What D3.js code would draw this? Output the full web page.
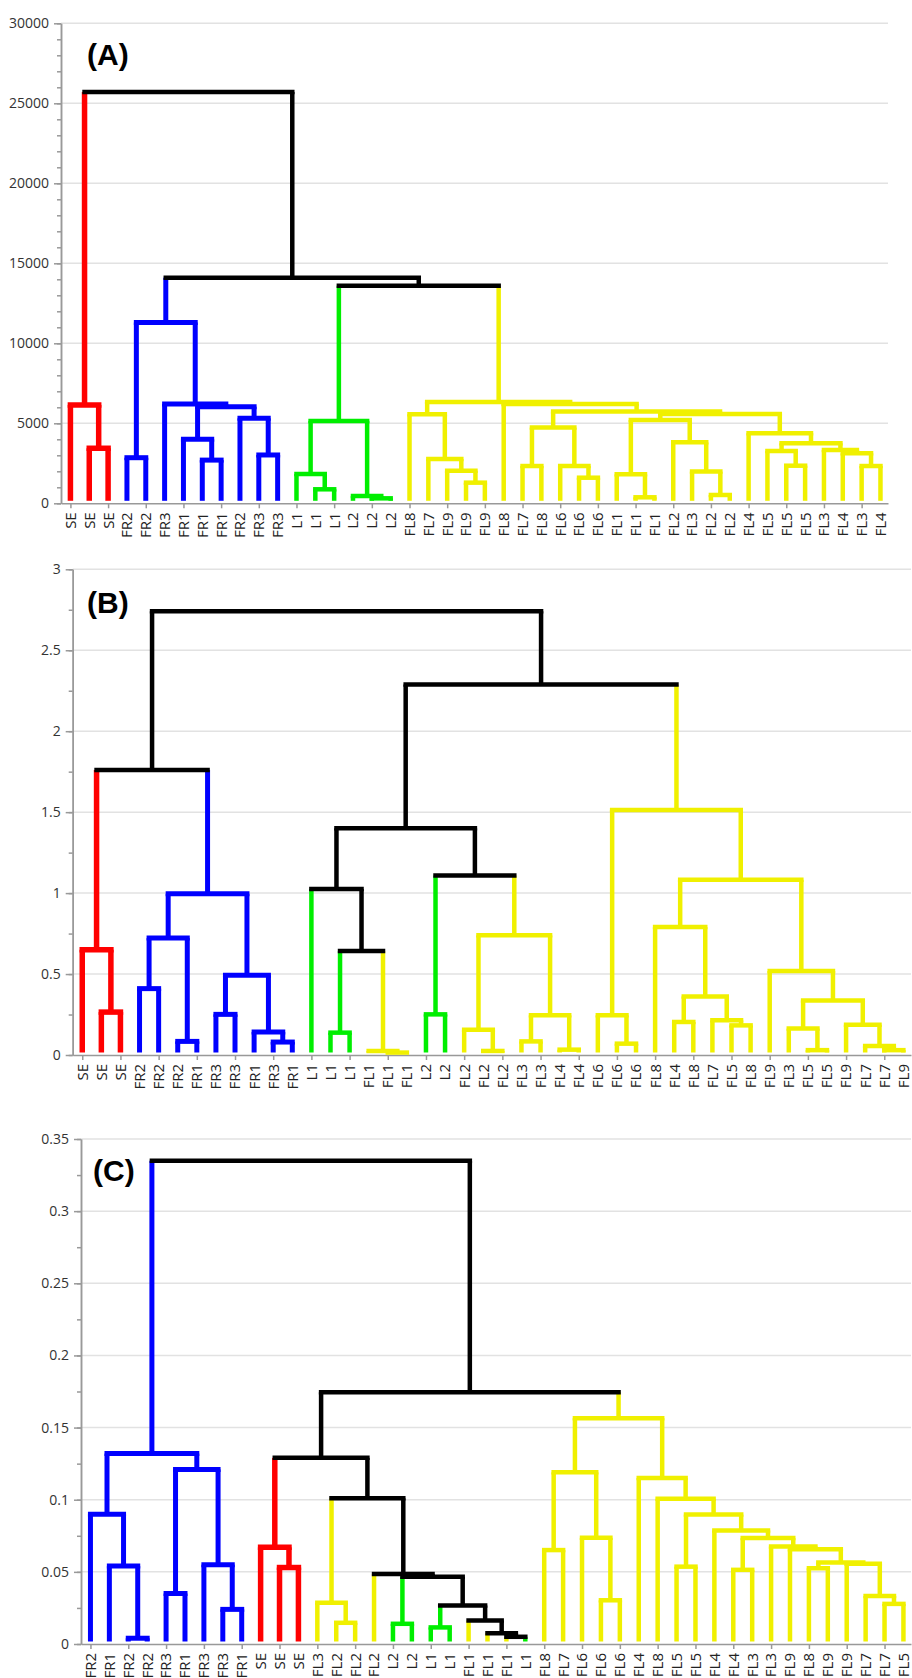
<!DOCTYPE html>
<html>
<head>
<meta charset="utf-8">
<script src="https://cdn.jsdelivr.net/npm/d3@7"></script>
<style>
  body { margin: 0; background: #fff; }
  svg text { font-family: "Open Sans", "Noto Sans", sans-serif; }
</style>
</head>
<body>
<svg id="svg" width="912" height="1678"></svg>
<script>
// ---- data: leaf order + merges [left, right, height] (ids >= 44 are earlier merge rows) ----
const labelsA = ['SE','SE','SE','FR2','FR2','FR3','FR1','FR1','FR1','FR2','FR3','FR3',
  'L1','L1','L1','L2','L2','L2','FL8','FL7','FL9','FL9','FL9','FL8','FL7','FL8','FL6','FL6',
  'FL6','FL1','FL1','FL1','FL2','FL3','FL2','FL2','FL4','FL5','FL5','FL5','FL3','FL4','FL3','FL4'];
const mergesA = [
  [1,2,3440],[0,44,6150],[3,4,2850],[7,8,2700],[6,47,4000],[10,11,3020],[9,49,5310],
  [48,50,6040],[5,51,6200],[46,52,11300],[13,14,875],[12,54,1830],[16,17,310],[15,56,460],
  [55,57,5150],[21,22,1290],[20,59,2040],[19,60,2770],[18,61,5560],[24,25,2330],[27,28,1600],
  [26,64,2330],[63,65,4730],[30,31,375],[29,67,1810],[34,35,520],[33,69,1980],[32,70,3810],
  [68,71,5210],[38,39,2350],[37,73,3270],[42,43,2330],[41,75,3125],[40,76,3330],[74,77,3750],
  [36,78,4380],[72,79,5580],[66,80,5730],[23,81,6210],[62,82,6330],[58,83,13600],
  [53,84,14100],[45,85,25700]
];
const ticksA = [0,5000,10000,15000,20000,25000,30000];

const labelsB = ['SE','SE','SE','FR2','FR2','FR2','FR1','FR3','FR3','FR1','FR3','FR1',
  'L1','L1','L1','FL1','FL1','FL1','L2','L2','FL2','FL2','FL2','FL3','FL3','FL4','FL4','FL6',
  'FL6','FL6','FL8','FL4','FL8','FL7','FL5','FL8','FL9','FL3','FL5','FL5','FL9','FL7','FL7','FL9'];
const mergesB = [
  [1,2,0.265],[0,44,0.65],[3,4,0.41],[5,6,0.084],[46,47,0.722],[7,8,0.251],[10,11,0.08],
  [9,50,0.142],[49,51,0.492],[48,52,0.996],[45,53,1.761],[13,14,0.138],[16,17,0.015],
  [15,56,0.025],[55,57,0.642],[12,58,1.025],[18,19,0.251],[21,22,0.025],[20,61,0.156],
  [23,24,0.084],[25,26,0.033],[63,64,0.245],[62,65,0.739],[60,66,1.109],[59,67,1.40],
  [28,29,0.07],[27,69,0.245],[31,32,0.204],[34,35,0.183],[33,72,0.214],[71,73,0.362],
  [30,74,0.79],[38,39,0.03],[37,76,0.163],[42,43,0.03],[41,78,0.055],[40,79,0.187],
  [77,80,0.337],[36,81,0.519],[75,82,1.082],[70,83,1.514],[68,84,2.288],[54,85,2.741]
];
const ticksB = [0,0.5,1,1.5,2,2.5,3];

const labelsC = ['FR2','FR1','FR2','FR2','FR3','FR1','FR3','FR3','FR1','SE','SE','SE',
  'FL3','FL2','FL2','FL2','L2','L2','L1','L1','FL1','FL1','FL1','L1','FL8','FL7','FL6','FL6',
  'FL6','FL4','FL8','FL5','FL5','FL4','FL4','FL3','FL3','FL9','FL8','FL9','FL9','FL7','FL7','FL5'];
const mergesC = [
  [2,3,0.004],[1,44,0.054],[0,45,0.090],[4,5,0.035],[7,8,0.024],[6,48,0.055],[47,49,0.121],
  [46,50,0.132],[10,11,0.053],[9,52,0.067],[13,14,0.0147],[12,54,0.0286],[16,17,0.014],
  [18,19,0.0115],[22,23,0.005],[21,58,0.0075],[20,59,0.0163],[57,60,0.0267],[56,61,0.0466],
  [15,62,0.0486],[55,63,0.101],[53,64,0.129],[24,25,0.0651],[27,28,0.0303],[26,67,0.0736],
  [66,68,0.119],[31,32,0.0536],[34,35,0.0514],[38,39,0.0525],[42,43,0.0278],[41,73,0.0333],
  [40,74,0.0556],[72,75,0.0565],[37,76,0.0657],[36,77,0.0676],[71,78,0.0734],[33,79,0.0787],
  [70,80,0.0897],[30,81,0.1007],[29,82,0.115],[69,83,0.1565],[65,84,0.1745],[51,85,0.335]
];
const ticksC = [0,0.05,0.1,0.15,0.2,0.25,0.3,0.35];

const groupColor = {SE:'#ff0000', FR:'#0000ff', L:'#00ee00', FL:'#f0f000'};
const groupWidth = {SE:5.5, FR:5, L:4.5, FL:4.5};

// panel frames
const panels = [
  {tag:'(A)', labels:labelsA, merges:mergesA, ticks:ticksA, minor:1000,
   left:61, right:888, y0:503.3, y1:23.3, tagX:87, tagY:65},
  {tag:'(B)', labels:labelsB, merges:mergesB, ticks:ticksB, minor:0.25,
   left:72.7, right:911, y0:1055, y1:569.3, tagX:87, tagY:613},
  {tag:'(C)', labels:labelsC, merges:mergesC, ticks:ticksC, minor:0.025,
   left:81, right:911, y0:1644, y1:1139, tagX:93, tagY:1181}
];

const svg = d3.select('#svg');
const fmt = d3.format('~g');

function groupOf(lab) {
  if (lab.startsWith('FL')) return 'FL';
  if (lab.startsWith('FR')) return 'FR';
  if (lab.startsWith('SE')) return 'SE';
  return 'L';
}

// leaves + merge nodes, x = leaf index (midpoint of children)
function buildTree(labels, merges) {
  const nodes = labels.map((l, i) => ({x: i, h: 0, grp: groupOf(l), leaf: true}));
  merges.forEach(([a, b, h]) => {
    const A = nodes[a], B = nodes[b];
    nodes.push({x: (A.x + B.x) / 2, h, kids: [A, B], grp: A.grp === B.grp ? A.grp : null});
  });
  return nodes;
}

panels.forEach(drawPanel);

function drawPanel(p) {
  const n = p.labels.length;
  const top = p.ticks[p.ticks.length - 1];
  const x = d3.scaleLinear().domain([-0.5, n - 0.6]).range([p.left, p.right]);
  const y = d3.scaleLinear().domain([0, top]).range([p.y0, p.y1]);
  const g = svg.append('g');

  // gridlines
  g.append('g').selectAll('line')
    .data(p.ticks.filter(d => d > 0)).join('line')
      .attr('x1', p.left).attr('x2', p.right)
      .attr('y1', d => y(d)).attr('y2', d => y(d))
      .attr('stroke', '#e2e2e2').attr('stroke-width', 1.5);

  // y axis: minor then major ticks
  const minor = d3.range(0, top + p.minor / 2, p.minor);
  const ax1 = g.append('g').attr('transform', `translate(${p.left},0)`)
    .call(d3.axisLeft(y).tickValues(minor).tickSize(4).tickSizeOuter(0).tickFormat(''));
  const ax2 = g.append('g').attr('transform', `translate(${p.left},0)`)
    .call(d3.axisLeft(y).tickValues(p.ticks).tickSize(7).tickSizeOuter(0).tickFormat(fmt).tickPadding(5));
  // x axis with a tick on every other leaf
  const ax3 = g.append('g').attr('transform', `translate(0,${p.y0})`)
    .call(d3.axisBottom(x).tickValues(d3.range(0, n, 2)).tickSize(5).tickSizeOuter(0).tickFormat(''));
  [ax1, ax2, ax3].forEach(a => {
    a.selectAll('path,line').attr('stroke', '#999').attr('stroke-width', 1.5);
  });
  ax2.selectAll('text').attr('fill', '#333').style('font-size', '14px');

  // dendrogram links
  const nodes = buildTree(p.labels, p.merges);
  const inner = nodes.filter(d => !d.leaf);
  const col = grp => grp ? groupColor[grp] : '#000';
  const wid = grp => grp ? groupWidth[grp] : 4.5;
  const links = g.append('g').attr('fill', 'none');
  inner.forEach(par => {
    par.kids.forEach(c => {
      links.append('line')
        .attr('x1', x(c.x)).attr('x2', x(c.x))
        .attr('y1', c.leaf ? p.y0 - 2.5 : y(c.h)).attr('y2', y(par.h))
        .attr('stroke', col(c.grp)).attr('stroke-width', wid(c.grp));
    });
  });
  inner.forEach(par => {
    links.append('line')
      .attr('x1', x(par.kids[0].x)).attr('x2', x(par.kids[1].x))
      .attr('y1', y(par.h)).attr('y2', y(par.h))
      .attr('stroke', col(par.grp)).attr('stroke-width', wid(par.grp))
      .attr('stroke-linecap', 'square');
  });

  // leaf labels, vertical
  g.append('g').selectAll('text')
    .data(p.labels).join('text')
      .attr('transform', (d, i) => `translate(${x(i)},${p.y0 + 9}) rotate(-90)`)
      .attr('text-anchor', 'end').attr('dy', '0.36em')
      .attr('fill', '#222').style('font-size', '15px')
      .text(d => d);

  // panel tag
  g.append('text')
    .attr('x', p.tagX).attr('y', p.tagY)
    .style('font-family', '"Liberation Sans", Arial, sans-serif')
    .style('font-weight', 'bold').style('font-size', '30px')
    .attr('fill', '#000')
    .text(p.tag);
}
</script>
</body>
</html>
